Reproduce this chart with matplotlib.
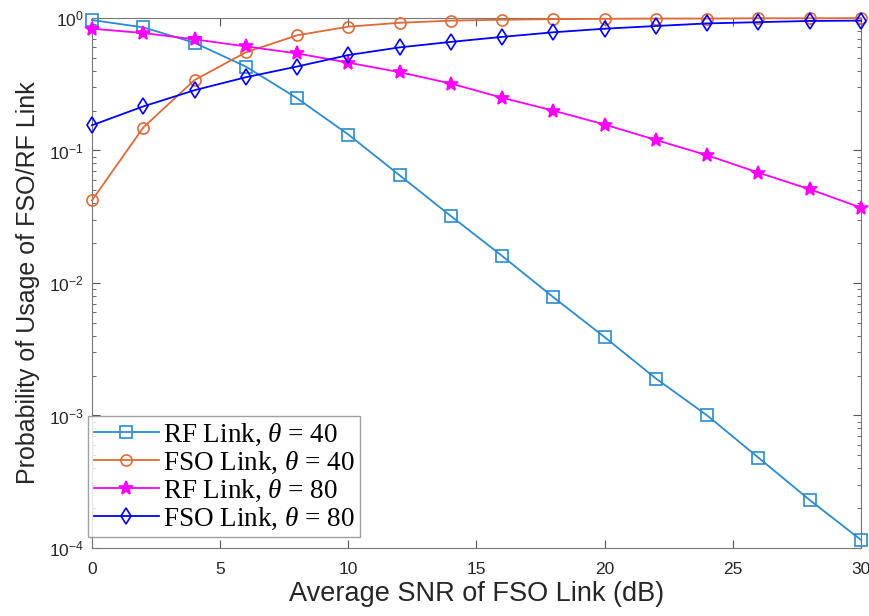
import matplotlib
matplotlib.use("Agg")
import matplotlib.pyplot as plt
from matplotlib.ticker import LogLocator, FixedLocator, NullFormatter

snr_db = [0, 2, 4, 6, 8, 10, 12, 14, 16, 18, 20, 22, 24, 26, 28, 30]

rf_40 = [0.965, 0.85, 0.65, 0.43, 0.248, 0.132, 0.065, 0.032, 0.016, 0.0078,
         0.0039, 0.0019, 0.001, 0.00048, 0.00023, 0.000115]
fso_40 = [0.042, 0.149, 0.34, 0.55, 0.74, 0.86, 0.92, 0.955, 0.97, 0.98,
          0.985, 0.99, 0.99, 0.995, 0.995, 0.998]
rf_80 = [0.83, 0.77, 0.69, 0.61, 0.54, 0.46, 0.39, 0.32, 0.25, 0.20,
         0.157, 0.12, 0.092, 0.068, 0.051, 0.037]
fso_80 = [0.155, 0.215, 0.285, 0.357, 0.43, 0.525, 0.60, 0.66, 0.72, 0.78,
          0.83, 0.87, 0.91, 0.93, 0.95, 0.955]

series = [
    (rf_40, "s", "#2a8bd0", r"RF Link, $\theta$ = 40"),
    (fso_40, "o", "#e06a35", r"FSO Link, $\theta$ = 40"),
    (rf_80, "*", "#ff00ff", r"RF Link, $\theta$ = 80"),
    (fso_80, "d", "#0000ff", r"FSO Link, $\theta$ = 80"),
]

plt.rcParams["font.family"] = ["Liberation Sans", "DejaVu Sans"]
plt.rcParams["mathtext.fontset"] = "custom"
plt.rcParams["mathtext.it"] = "Liberation Serif:italic"
plt.rcParams["mathtext.rm"] = "Liberation Sans"

fig = plt.figure(figsize=(8.7, 6.16), dpi=100)
ax = fig.add_axes([0.1057, 0.1104, 0.884, 0.8604])

for y, m, c, lab in series:
    ms = 10 if m == "*" else 8
    ax.semilogy(snr_db, y, marker=m, color=c, lw=1.3, ms=ms,
                mfc="none" if m != "*" else c, mew=1.2, label=lab,
                clip_on=False, zorder=3)

ax.set_xlim(0, 30)
ax.set_ylim(1e-4, 1)
ax.xaxis.set_major_locator(FixedLocator([0, 5, 10, 15, 20, 25, 30]))
ax.yaxis.set_major_locator(LogLocator(base=10, numticks=10))
ax.yaxis.set_minor_locator(LogLocator(base=10, subs=range(2, 10), numticks=10))
ax.yaxis.set_minor_formatter(NullFormatter())

ax.tick_params(which="both", direction="in", top=True, right=True,
               colors="#555555", labelcolor="#262626", labelsize=12.5)
ax.tick_params(which="major", length=6)
ax.tick_params(which="minor", length=3)
ax.tick_params(axis="x", pad=10)
ax.tick_params(axis="y", pad=6)
for s in ax.spines.values():
    s.set_color("#777777")

ax.set_xlabel("Average SNR of FSO Link (dB)", fontsize=19.5, color="#262626",
              labelpad=3)
ax.set_ylabel("Probability of Usage of FSO/RF Link", fontsize=18,
              color="#262626", labelpad=6)

leg = ax.legend(loc="lower left", bbox_to_anchor=(-0.005, 0.02),
                borderaxespad=0, frameon=True, fancybox=False,
                edgecolor="#888888", borderpad=0.2, labelspacing=0.07,
                handlelength=2.4, handletextpad=0.15,
                prop={"family": "Liberation Serif", "size": 19.5})
leg.get_frame().set_linewidth(1.0)
leg.set_zorder(5)

fig.savefig("out.png", dpi=100)
